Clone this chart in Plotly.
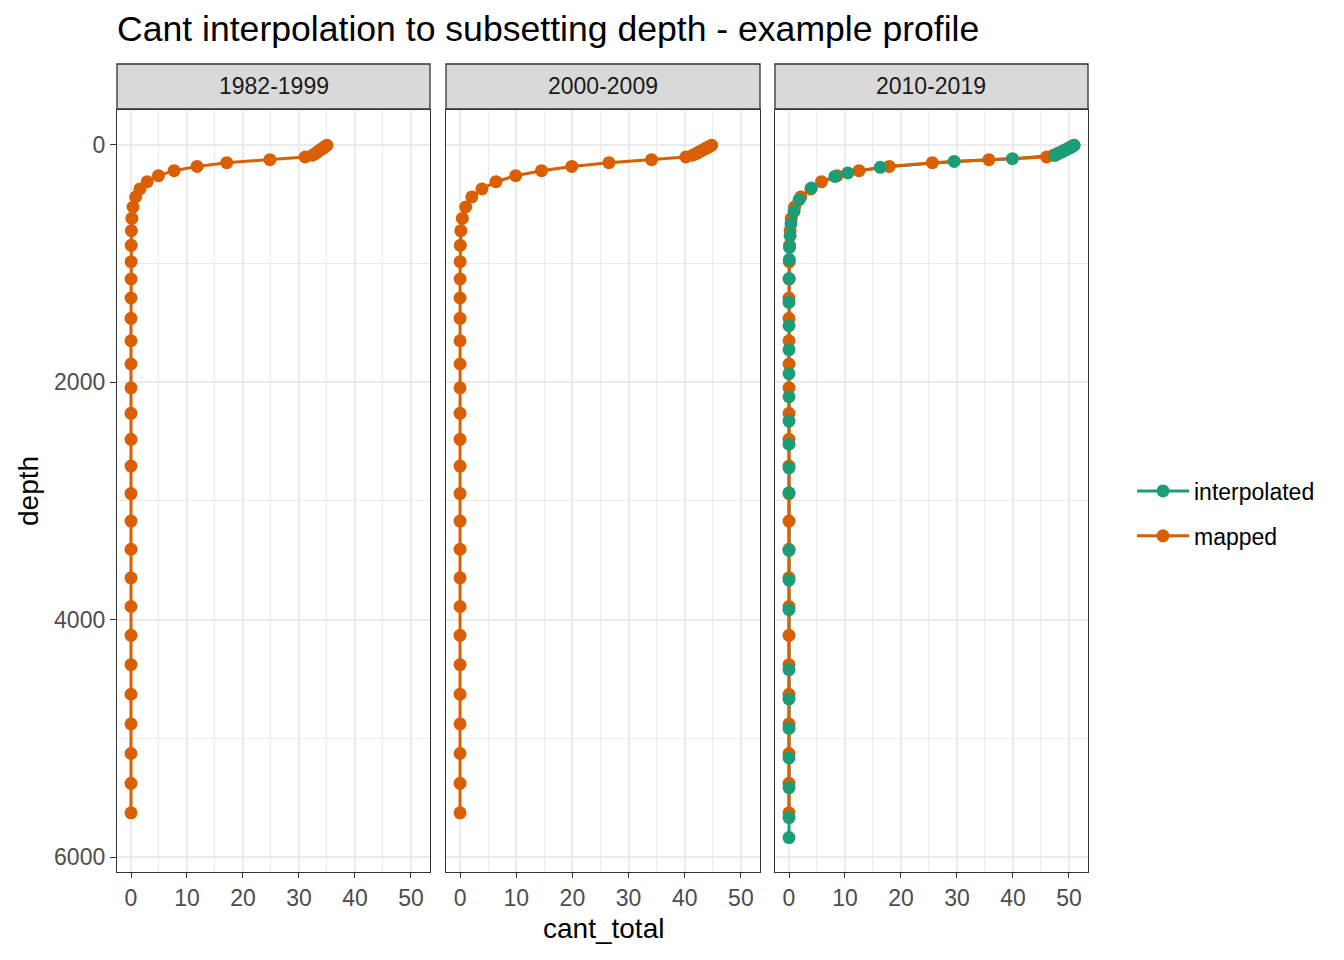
import plotly.graph_objects as go

# ---------------- data ----------------
panels = ["1982-1999", "2000-2009", "2010-2019"]

mapped_depth = [5, 15, 25, 35, 45, 55, 65, 76, 89, 104,
                126, 152, 183, 219, 261, 312, 373, 440, 525, 621, 724, 848, 985, 1131,
                1291, 1462, 1651, 1847, 2048, 2262, 2481, 2707, 2938, 3170,
                3407, 3648, 3889, 4132, 4379, 4628, 4878, 5127, 5378, 5627]

mapped_1982 = [35.0, 34.7, 34.4, 34.1, 33.8, 33.5, 33.2, 32.9, 32.4, 31.1,
               24.8, 17.1, 11.8, 7.7, 4.9, 2.9, 1.6, 0.83, 0.36, 0.15, 0.07, 0.04, 0.02, 0.01,
               0, 0, 0, 0, 0, 0, 0, 0, 0, 0,
               0, 0, 0, 0, 0, 0, 0, 0, 0, 0]

mapped_2000 = [44.8, 44.4, 44.0, 43.6, 43.2, 42.8, 42.4, 42.0, 41.4, 40.2,
               34.1, 26.5, 19.9, 14.5, 9.9, 6.4, 3.9, 2.1, 1.0, 0.41, 0.13, 0.05, 0.02, 0.01,
               0, 0, 0, 0, 0, 0, 0, 0, 0, 0,
               0, 0, 0, 0, 0, 0, 0, 0, 0, 0]

mapped_2010 = [50.9, 50.5, 50.1, 49.7, 49.3, 48.9, 48.4, 47.9, 47.2, 46.0,
               35.7, 25.6, 17.9, 12.5, 8.6, 5.8, 3.9, 2.1, 1.0, 0.4, 0.2, 0.1, 0.05, 0.02,
               0, 0, 0, 0, 0, 0, 0, 0, 0, 0,
               0, 0, 0, 0, 0, 0, 0, 0, 0, 0]

interp_depth_2010 = [5, 15, 25, 35, 45, 55, 65, 77, 90,
                     118, 141, 191, 238, 267,
                     365, 463, 562, 665, 766, 865, 968,
                     1128, 1328, 1524, 1726, 1928, 2123, 2328, 2523, 2722, 2932,
                     3416, 3667, 3916,
                     4421, 4668, 4915, 5164, 5414, 5667, 5835]

interp_2010 = [50.9, 50.6, 50.2, 49.8, 49.4, 49.0, 48.5, 48.0, 47.5,
               39.9, 29.5, 16.3, 10.5, 8.2,
               4.0, 1.8, 0.9, 0.35, 0.2, 0.1, 0.05,
               0.02, 0, 0, 0, 0, 0, 0, 0, 0, 0,
               0, 0, 0,
               0, 0, 0, 0, 0, 0, 0]

x_ticks = [0, 10, 20, 30, 40, 50]
y_ticks = [0, 2000, 4000, 6000]

# ---------------- style ----------------
GREEN = "#1B9E77"
ORANGE = "#D95F02"
FONT = "Liberation Sans, Arial, sans-serif"
W, H = 1344, 960
MS = 13
LW = 3

panel_px = [(117, 430), (446, 760), (775, 1088)]
top_px, bot_px = 110, 872
strip_top, strip_bot = 64, 109

fig = go.Figure()

mapped_series = [mapped_1982, mapped_2000, mapped_2010]

for i, name in enumerate(panels):
    xa = "x" if i == 0 else f"x{i+1}"
    ya = "y" if i == 0 else f"y{i+1}"
    if i == 2:
        fig.add_trace(go.Scatter(x=interp_2010, y=interp_depth_2010, mode="lines",
                                 line=dict(color=GREEN, width=LW), showlegend=False,
                                 xaxis=xa, yaxis=ya, hoverinfo="skip"))
    fig.add_trace(go.Scatter(x=mapped_series[i], y=mapped_depth, mode="lines",
                             line=dict(color=ORANGE, width=LW), showlegend=False,
                             xaxis=xa, yaxis=ya))
    fig.add_trace(go.Scatter(x=mapped_series[i], y=mapped_depth, mode="markers",
                             marker=dict(color=ORANGE, size=MS), showlegend=False,
                             xaxis=xa, yaxis=ya))
    if i == 2:
        fig.add_trace(go.Scatter(x=interp_2010, y=interp_depth_2010, mode="markers",
                                 marker=dict(color=GREEN, size=MS), showlegend=False,
                                 xaxis=xa, yaxis=ya))

# legend entries
fig.add_trace(go.Scatter(x=[None], y=[None], mode="lines+markers", name="interpolated",
                         line=dict(color=GREEN, width=LW), marker=dict(color=GREEN, size=MS),
                         legendgroup="a"))
fig.add_trace(go.Scatter(x=[None], y=[None], mode="lines+markers", name="mapped",
                         line=dict(color=ORANGE, width=LW), marker=dict(color=ORANGE, size=MS),
                         legendgroup="b"))

y_dom = [(H - bot_px) / H, (H - top_px) / H]

layout = dict(
    width=W, height=H,
    margin=dict(l=0, r=0, t=0, b=0),
    paper_bgcolor="white", plot_bgcolor="white",
    font=dict(family=FONT, color="black"),
    showlegend=True,
    legend=dict(x=1132 / W, xanchor="left", y=1 - 513.5 / H, yanchor="middle",
                font=dict(size=23, family=FONT, color="black"), itemwidth=52,
                traceorder="grouped", tracegroupgap=12, bgcolor="rgba(0,0,0,0)"),
)

for i, (l, r) in enumerate(panel_px):
    suffix = "" if i == 0 else str(i + 1)
    layout["xaxis" + suffix] = dict(
        domain=[l / W, r / W], anchor="y" + suffix,
        range=[-2.5, 53.4], tickvals=x_ticks, ticktext=[str(v) for v in x_ticks],
        showgrid=True, gridcolor="#EBEBEB", gridwidth=2,
        minor=dict(tickvals=[5, 15, 25, 35, 45], showgrid=True, gridcolor="#EBEBEB",
                   gridwidth=1, ticks=""),
        zeroline=False, showline=True, mirror=True, linecolor="#333333", linewidth=1.3,
        ticks="outside", ticklen=5, tickwidth=1.3, tickcolor="#333333",
        tickfont=dict(size=23, color="#4D4D4D", family=FONT),
    )
    layout["yaxis" + suffix] = dict(
        domain=y_dom, anchor="x" + suffix,
        range=[6125, -292], tickvals=y_ticks, ticktext=[str(v) for v in y_ticks],
        showticklabels=(i == 0),
        showgrid=True, gridcolor="#EBEBEB", gridwidth=2,
        minor=dict(tickvals=[1000, 3000, 5000], showgrid=True, gridcolor="#EBEBEB",
                   gridwidth=1, ticks=""),
        zeroline=False, showline=True, mirror=True, linecolor="#333333", linewidth=1.3,
        ticks="outside" if i == 0 else "", ticklen=6, tickwidth=1.3, tickcolor="#333333",
        tickfont=dict(size=23, color="#4D4D4D", family=FONT),
    )

fig.update_layout(**layout)

shapes = []
annotations = []
for i, (l, r) in enumerate(panel_px):
    shapes.append(dict(type="rect", xref="paper", yref="paper",
                       x0=l / W, x1=r / W, y0=1 - strip_bot / H, y1=1 - strip_top / H,
                       fillcolor="#D9D9D9", line=dict(color="#333333", width=1.3)))
    annotations.append(dict(text=panels[i], xref="paper", yref="paper",
                            x=(l + r) / 2 / W, y=1 - (strip_top + strip_bot) / 2 / H,
                            xanchor="center", yanchor="middle", showarrow=False,
                            font=dict(size=23, color="#1A1A1A", family=FONT)))

annotations.append(dict(text="Cant interpolation to subsetting depth - example profile",
                        xref="paper", yref="paper", x=115 / W, y=1 - 29 / H,
                        xanchor="left", yanchor="middle", showarrow=False,
                        font=dict(size=35.6, color="black", family=FONT)))
annotations.append(dict(text="depth", xref="paper", yref="paper", x=28 / W, y=1 - 491 / H,
                        xanchor="center", yanchor="middle", showarrow=False, textangle=-90,
                        font=dict(size=28, color="black", family=FONT)))
annotations.append(dict(text="cant_total", xref="paper", yref="paper", x=603 / W, y=1 - 928 / H,
                        xanchor="center", yanchor="middle", showarrow=False,
                        font=dict(size=28, color="black", family=FONT)))

fig.update_layout(shapes=shapes, annotations=annotations)

fig.write_html("out.html", config={"displayModeBar": False},
               post_script="document.body.style.margin='0';")
